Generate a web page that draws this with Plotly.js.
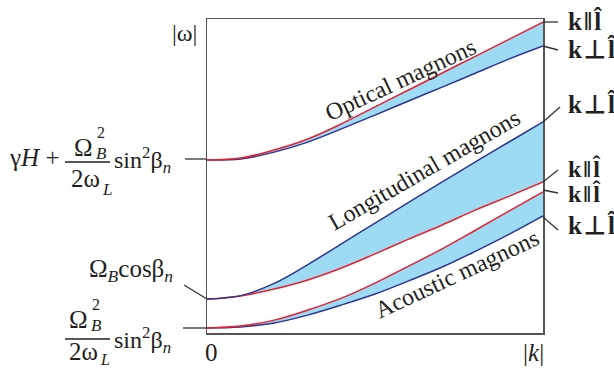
<!DOCTYPE html>
<html><head><meta charset="utf-8">
<script src="https://cdn.plot.ly/plotly-3.0.1.min.js"></script>
<style>html,body{margin:0;padding:0;background:#fff}#chart{width:614px;height:370px}</style>
</head><body><div id="chart"></div>
<script>
// |k| (normalised) and |omega| (arbitrary units)
const k = [0, 0.1, 0.2, 0.3, 0.4, 0.5, 0.6, 0.7, 0.8, 0.9, 1.0];
const opticalPar  = [55.1, 55.7, 58.3, 61.8, 66.6, 72.0, 77.4, 82.8, 88.2, 93.6, 99.0];
const opticalPerp = [55.1, 55.4, 57.6, 60.8, 65.0, 69.4, 73.9, 78.3, 82.8, 87.3, 91.4];
const longPerp    = [10.8, 11.9, 15.8, 21.8, 28.4, 35.0, 41.6, 48.1, 54.6, 60.9, 67.2];
const longPar     = [10.8, 11.8, 14.0, 16.9, 20.7, 25.2, 29.9, 34.4, 39.2, 43.6, 48.1];
const acousticPar = [1.6, 2.2, 4.1, 7.3, 11.1, 15.9, 21.3, 26.8, 32.8, 38.9, 44.9];
const acousticPerp= [1.6, 1.9, 3.2, 5.7, 8.9, 12.4, 16.6, 21.0, 26.1, 31.5, 37.3];
const bandNames = ["Optical magnons", "Longitudinal magnons", "Acoustic magnons"];
const parLabel = "k\u200a\u2016\u200al\u0302";
const perpLabel = "k\u200a\u22a5\u200al\u0302";

const RED = "#ea1f2d", BLUE = "#2c3592", FILL = "#9ddbf5";
function tr(y, color, fill) {
  const t = {x: k, y: y, mode: "lines", line: {color: color, width: 1.5, shape: "spline", smoothing: 1}, hoverinfo: "skip"};
  if (fill) { t.fill = "tonexty"; t.fillcolor = FILL; }
  return t;
}
const data = [
  tr(opticalPerp, BLUE), tr(opticalPar, RED, true),
  tr(longPar, RED), tr(longPerp, BLUE, true),
  tr(acousticPerp, BLUE), tr(acousticPar, RED, true)
];

const L = 207, T = 19, W = 336, H = 314;
const PX = x => (x - L) / W, PY = y => (T + H - y) / H;
const SERIF = "Liberation Serif, Times New Roman, serif";
function A(text, x, y, size, extra) {
  return Object.assign({text: text, x: PX(x), y: PY(y), xref: "paper", yref: "paper", showarrow: false,
    xanchor: "center", yanchor: "middle", font: {family: SERIF, size: size, color: "#231f20"}}, extra || {});
}
const LEFT = {xanchor: "left"};
function line(x0, y0, x1, y1, c) {
  return {type: "line", xref: "paper", yref: "paper", x0: PX(x0), y0: PY(y0), x1: PX(x1), y1: PY(y1),
    line: {color: c || "#333", width: 1.3}};
}

const ann = [
  A("|ω|", 184, 33, 24),
  A("0", 211, 352, 25),
  A("|<i>k</i>|", 533, 352, 25),
  // gamma H + Omega_B^2/(2 omega_L) sin^2 beta_n
  A("γ<i>H</i> +", 61, 157, 25, {xanchor: "right"}),
  A("Ω", 83, 147, 25),
  A("2", 101, 132, 16),
  A("<i>B</i>", 101, 153, 17),
  A("2ω", 85, 178, 25),
  A("<i>L</i>", 107, 189, 17),
  A("sin<sup>2</sup>β<sub><i>n</i></sub>", 112, 160, 24, LEFT),
  // Omega_B cos beta_n
  A("Ω<sub><i>B</i></sub>cosβ<sub><i>n</i></sub>", 87, 270, 25, LEFT),
  // Omega_B^2/(2 omega_L) sin^2 beta_n
  A("Ω", 78, 319, 25),
  A("2", 96, 304, 16),
  A("<i>B</i>", 96, 325, 17),
  A("2ω", 83, 351, 25),
  A("<i>L</i>", 105, 359, 16),
  A("sin<sup>2</sup>β<sub><i>n</i></sub>", 112, 340, 24, LEFT),
  // right labels
  A("<b>" + parLabel + "</b>", 566, 21, 25, LEFT),
  A("<b>" + perpLabel + "</b>", 566, 49, 25, LEFT),
  A("<b>" + perpLabel + "</b>", 566, 104, 25, LEFT),
  A("<b>" + parLabel + "</b>", 566, 168, 24, LEFT),
  A("<b>" + parLabel + "</b>", 566, 193, 24, LEFT),
  A("<b>" + perpLabel + "</b>", 566, 225, 25, LEFT),
  // band names
  A(bandNames[0], 400, 80, 24, {textangle: -25}),
  A(bandNames[1], 424, 170, 24, {textangle: -30}),
  A(bandNames[2], 457, 274, 24, {textangle: -25})
];

const shapes = [
  line(185, 159, 207, 159),
  line(184, 285, 207, 299),
  line(183, 328, 207, 328),
  line(65, 162, 110, 162, "#231f20"),
  line(65, 339, 110, 339, "#231f20"),
  line(543, 22, 558, 22),
  line(543, 46, 558, 50),
  line(543, 122, 560, 107),
  line(543, 182, 558, 170),
  line(543, 190, 558, 193),
  line(543, 217, 558, 230)
];

const layout = {
  width: 614, height: 370, showlegend: false,
  margin: {l: L, r: 614 - L - W, t: T, b: 370 - T - H},
  paper_bgcolor: "#fff", plot_bgcolor: "#fff",
  xaxis: {range: [0, 1], showgrid: false, zeroline: false, showticklabels: false, ticks: "",
    showline: true, mirror: true, linecolor: "#555", linewidth: 1.5, fixedrange: true},
  yaxis: {range: [0, 100], showgrid: false, zeroline: false, showticklabels: false, ticks: "",
    showline: true, mirror: true, linecolor: "#555", linewidth: 1.5, fixedrange: true},
  annotations: ann, shapes: shapes
};
Plotly.newPlot("chart", data, layout, {staticPlot: true});
</script></body></html>
